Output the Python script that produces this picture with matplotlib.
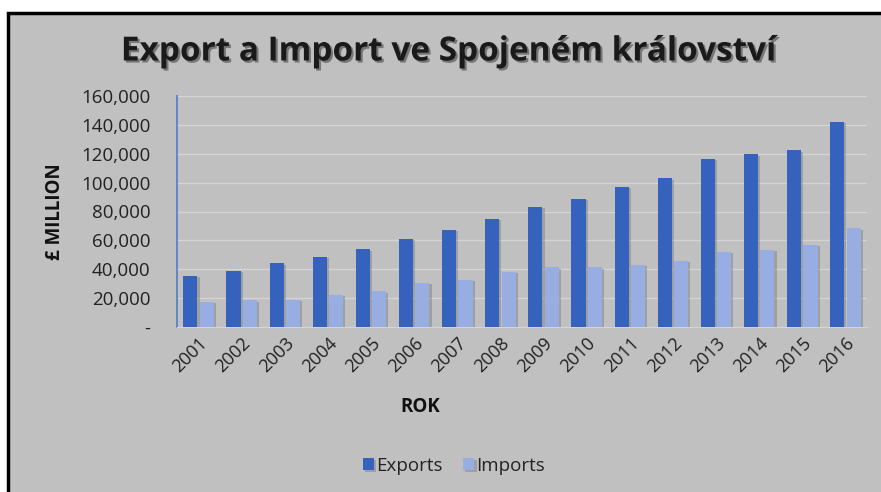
import matplotlib
matplotlib.use("Agg")
import matplotlib.pyplot as plt
import matplotlib.patheffects as pe
from matplotlib.patches import Rectangle
import numpy as np

years = ["2001", "2002", "2003", "2004", "2005", "2006", "2007", "2008",
         "2009", "2010", "2011", "2012", "2013", "2014", "2015", "2016"]
exports = [35300, 38900, 44200, 48800, 53900, 61200, 67200, 74800,
           83300, 88600, 97100, 102900, 116300, 119500, 122500, 142000]
imports = [17500, 18400, 18900, 22300, 24600, 30400, 32700, 38400,
           41400, 41400, 43000, 45800, 52000, 53400, 57100, 68300]
yticks = [0, 20000, 40000, 60000, 80000, 100000, 120000, 140000, 160000]
ytick_labels = ["-", "20,000", "40,000", "60,000", "80,000", "100,000",
                "120,000", "140,000", "160,000"]

FONT = ["Open Sans", "DejaVu Sans"]
plt.rcParams['font.family'] = FONT

W, H = 881, 492
fig = plt.figure(figsize=(W / 100, H / 100), dpi=100)
fig.patch.set_facecolor("white")

bg = "#c0c0c0"
# chart area with black frame (top/left visible)
fig.patches.append(Rectangle((8 / W, -0.05), 1.05, (H - 13) / H + 0.05,
                             transform=fig.transFigure, facecolor=bg,
                             edgecolor="black", linewidth=2.5, zorder=-10))

ax = fig.add_axes([177 / W, 1 - 327 / H, (867 - 177) / W, (327 - 96) / H])
ax.set_zorder(1)
ax.patch.set_alpha(0)

x = np.arange(len(years))
w = 0.33
off = 0.19
exp_col = "#3462bd"
imp_col = "#98ade1"
shadow = [pe.SimplePatchShadow(offset=(1.5, -1), alpha=0.3, shadow_rgbFace="#555555"), pe.Normal()]
b1 = ax.bar(x - off, exports, width=w, color=exp_col, label="Exports", zorder=3)
b2 = ax.bar(x + off, imports, width=w, color=imp_col, label="Imports", zorder=3)
for b in list(b1) + list(b2):
    b.set_path_effects(shadow)

ax.set_xlim(-0.5, len(years) - 0.5)
ax.set_ylim(0, 160000)
ax.set_yticks(yticks)
ax.set_yticklabels(ytick_labels, fontsize=13.5, color="#222222")
ax.set_xticks(x)
ax.set_xticklabels(years, rotation=45, ha="right", va="top", rotation_mode="anchor",
                   fontsize=13, color="#222222")
ax.tick_params(axis="both", length=0)
ax.tick_params(axis="y", pad=19)
ax.tick_params(axis="x", pad=5)

ax.grid(axis="y", color="#d4d4d4", linewidth=1.0, zorder=0)
for s in ["top", "right"]:
    ax.spines[s].set_visible(False)
ax.spines["bottom"].set_color("#d4d4d4")
ax.spines["left"].set_color("#5b7fc7")
ax.spines["left"].set_linewidth(1.3)

fig.text(55 / W, 1 - 212 / H, "£ MILLION", ha="center", va="center", rotation=90,
         fontsize=13.5, fontweight="bold", color="#111111")
fig.text(420 / W, 1 - 407 / H, "ROK", ha="center", va="center",
         fontsize=13.5, fontweight="bold", color="#111111")

fig.text(449 / W, 1 - 52 / H, "Export a Import ve Spojeném království",
         ha="center", va="center", fontsize=24, fontweight="bold",
         color="#1a1a1a",
         path_effects=[pe.withSimplePatchShadow(offset=(1.5, -1.5), alpha=0.4)])

leg = fig.legend(handles=[b1, b2], labels=["Exports", "Imports"],
                 loc="center", bbox_to_anchor=(454 / W, 1 - 466 / H), ncol=2,
                 frameon=False, fontsize=13.5, handlelength=0.6, handleheight=0.6,
                 handletextpad=0.1, columnspacing=1.1)
for t in leg.get_texts():
    t.set_color("#222222")

fig.savefig("out.png", dpi=100, facecolor="white")
